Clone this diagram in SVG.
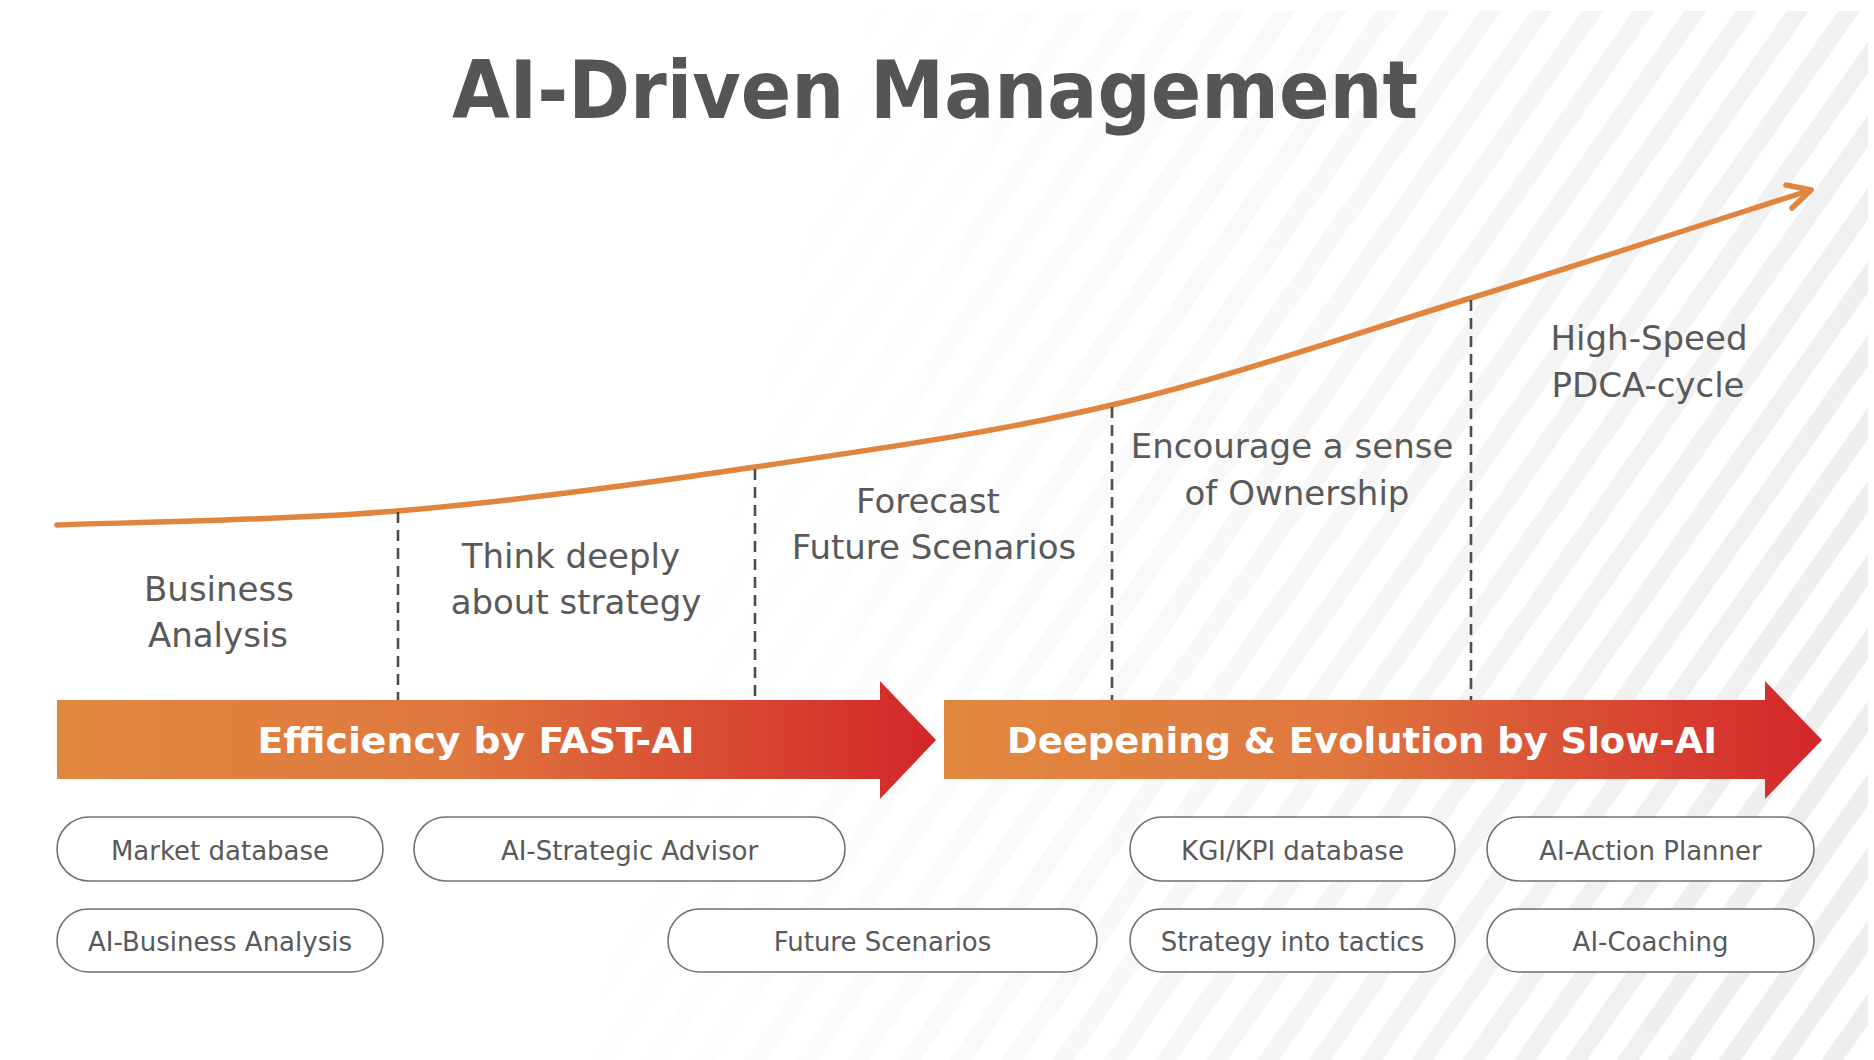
<svg xmlns="http://www.w3.org/2000/svg" width="1874" height="1060" viewBox="0 0 1874 1060">
<defs>
<style>
.lbl{font-family:"DejaVu Sans",sans-serif;font-size:34px;fill:#595959;text-anchor:middle}
.pilltxt{font-family:"DejaVu Sans",sans-serif;font-size:26px;fill:#595959;text-anchor:middle}
.pill{fill:#ffffff;stroke:#707070;stroke-width:1.6}
.band{font-family:"DejaVu Sans Condensed","DejaVu Sans",sans-serif;font-stretch:condensed;font-weight:bold;font-size:35px;fill:#ffffff;text-anchor:middle}
.div{stroke:#4d4d4d;stroke-width:2.6;stroke-dasharray:11 7;fill:none}
.curve{fill:none;stroke:#E0843E;stroke-width:5.5;stroke-linecap:round;stroke-linejoin:round}
</style>
<pattern id="stripes" patternUnits="userSpaceOnUse" width="42" height="42" patternTransform="rotate(35)">
<rect x="0" y="0" width="18" height="42" fill="#EEEEEE"/>
</pattern>
<linearGradient id="fade" gradientUnits="userSpaceOnUse" x1="700" y1="500" x2="1800" y2="800">
<stop offset="0" stop-color="#fff" stop-opacity="0"/>
<stop offset="0.5" stop-color="#fff" stop-opacity="0.45"/>
<stop offset="1" stop-color="#fff" stop-opacity="1"/>
</linearGradient>
<mask id="fadeMask" maskUnits="userSpaceOnUse" x="0" y="0" width="1874" height="1060">
<rect x="0" y="11" width="1868" height="1049" fill="url(#fade)"/>
</mask>
<linearGradient id="bandGrad" x1="0" y1="0" x2="1" y2="0">
<stop offset="0" stop-color="#E1883F"/>
<stop offset="0.45" stop-color="#DF773E"/>
<stop offset="1" stop-color="#D3262A"/>
</linearGradient>
</defs>
<rect width="1874" height="1060" fill="#ffffff"/>
<rect x="0" y="11" width="1868" height="1049" fill="url(#stripes)" mask="url(#fadeMask)"/>

<text x="935" y="118" font-family="DejaVu Sans Condensed, DejaVu Sans, sans-serif" font-stretch="condensed" font-weight="bold" font-size="81" fill="#555555" text-anchor="middle" textLength="966" lengthAdjust="spacingAndGlyphs">AI-Driven Management</text>

<g id="connectors">
<path class="curve" d="M57,525 C113.7,522.7 280.7,520.7 397,511 C513.3,501.3 635.8,484.7 755,467 C874.2,449.3 992.7,433.2 1112,405 C1231.3,376.8 1354.5,333.8 1471,298 C1587.5,262.2 1754.3,208 1811,190"/>
<path class="curve" d="M1786,185 L1811,190 L1792,208"/>
<line class="div" x1="398" y1="512" x2="398" y2="700"/>
<line class="div" x1="755" y1="469" x2="755" y2="700"/>
<line class="div" x1="1112" y1="407" x2="1112" y2="700"/>
<line class="div" x1="1471" y1="300" x2="1471" y2="700"/>
</g>

<g id="stage-business-analysis">
<text class="lbl" x="219" y="601">Business</text>
<text class="lbl" x="218" y="647">Analysis</text>
</g>
<g id="stage-think-deeply">
<text class="lbl" x="571" y="568">Think deeply</text>
<text class="lbl" x="576" y="614">about strategy</text>
</g>
<g id="stage-forecast">
<text class="lbl" x="928" y="513">Forecast</text>
<text class="lbl" x="934" y="559">Future Scenarios</text>
</g>
<g id="stage-ownership">
<text class="lbl" x="1292" y="458">Encourage a sense</text>
<text class="lbl" x="1297" y="505">of Ownership</text>
</g>
<g id="stage-pdca">
<text class="lbl" x="1649" y="350">High-Speed</text>
<text class="lbl" x="1648" y="397">PDCA-cycle</text>
</g>

<g id="band-fast-ai">
<polygon points="57,700 880,700 880,681 936,740 880,799 880,779 57,779" fill="url(#bandGrad)"/>
<text class="band" x="476" y="753" textLength="437" lengthAdjust="spacingAndGlyphs">Efficiency by FAST-AI</text>
</g>
<g id="band-slow-ai">
<polygon points="944,700 1765,700 1765,681 1822,740 1765,799 1765,779 944,779" fill="url(#bandGrad)"/>
<text class="band" x="1362" y="753" textLength="710" lengthAdjust="spacingAndGlyphs">Deepening &amp; Evolution by Slow-AI</text>
</g>

<g id="pill-market-database">
<rect class="pill" x="57" y="817" width="326" height="64" rx="32"/>
<text class="pilltxt" x="220" y="860">Market database</text>
</g>
<g id="pill-ai-strategic-advisor">
<rect class="pill" x="414" y="817" width="431" height="64" rx="32"/>
<text class="pilltxt" x="629.5" y="860">AI-Strategic Advisor</text>
</g>
<g id="pill-kgi-kpi-database">
<rect class="pill" x="1130" y="817" width="325" height="64" rx="32"/>
<text class="pilltxt" x="1292.5" y="860">KGI/KPI database</text>
</g>
<g id="pill-ai-action-planner">
<rect class="pill" x="1487" y="817" width="327" height="64" rx="32"/>
<text class="pilltxt" x="1650.5" y="860">AI-Action Planner</text>
</g>
<g id="pill-ai-business-analysis">
<rect class="pill" x="57" y="909" width="326" height="63" rx="31.5"/>
<text class="pilltxt" x="220" y="951">AI-Business Analysis</text>
</g>
<g id="pill-future-scenarios">
<rect class="pill" x="668" y="909" width="429" height="63" rx="31.5"/>
<text class="pilltxt" x="882.5" y="951">Future Scenarios</text>
</g>
<g id="pill-strategy-into-tactics">
<rect class="pill" x="1130" y="909" width="325" height="63" rx="31.5"/>
<text class="pilltxt" x="1292.5" y="951">Strategy into tactics</text>
</g>
<g id="pill-ai-coaching">
<rect class="pill" x="1487" y="909" width="327" height="63" rx="31.5"/>
<text class="pilltxt" x="1650.5" y="951">AI-Coaching</text>
</g>
</svg>
